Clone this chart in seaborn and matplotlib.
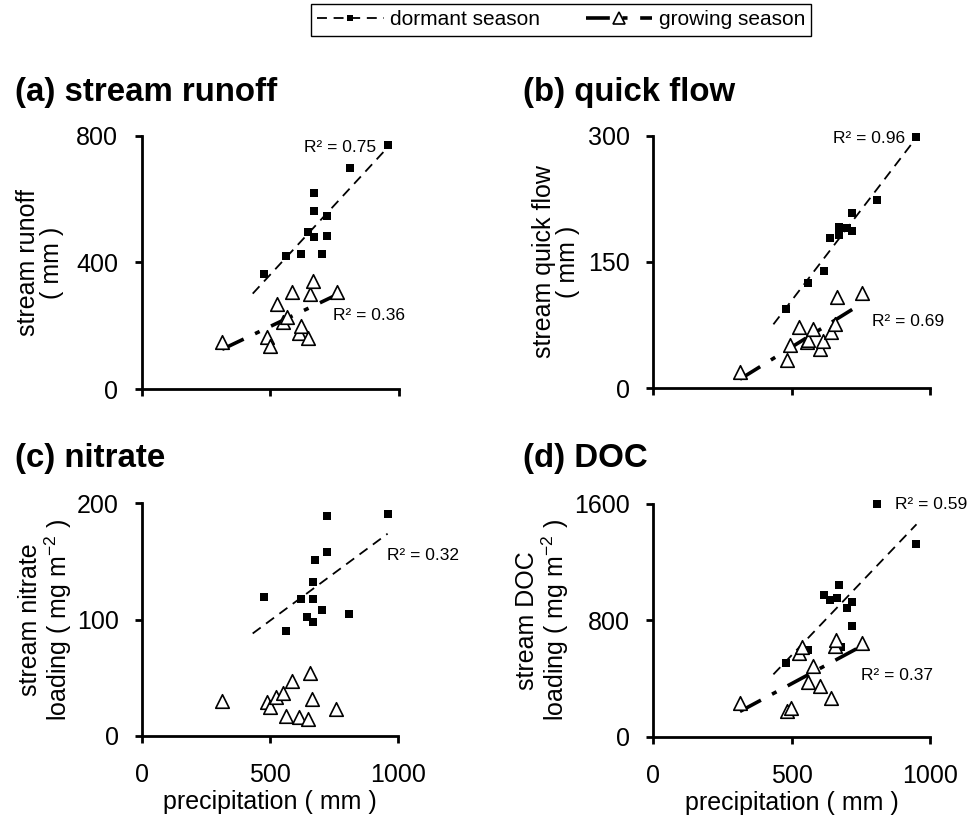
import numpy as np
import matplotlib
matplotlib.use("Agg")
import matplotlib.pyplot as plt
from matplotlib.lines import Line2D
import seaborn as sns

sns.set_style("ticks")
plt.rcParams["font.family"] = ["Liberation Sans", "DejaVu Sans"]
plt.rcParams["mathtext.fontset"] = "custom"
plt.rcParams["mathtext.rm"] = "Liberation Sans"
plt.rcParams["mathtext.it"] = "Liberation Sans:italic"
plt.rcParams["text.color"] = "black"
plt.rcParams["axes.labelcolor"] = "black"

# ---------------------------------------------------------------------------
# Data (precipitation in mm)
# ---------------------------------------------------------------------------
# (a) stream runoff (mm)
a_dorm_x = [476, 560, 619, 645, 668, 668, 668, 700, 721, 721, 809, 958]
a_dorm_y = [363, 421, 426, 495, 621, 563, 479, 426, 547, 484, 698, 772]
a_grow_x = [312, 485, 499, 524, 550, 563, 584, 610, 617, 647, 654, 664, 758]
a_grow_y = [148, 164, 136, 269, 213, 229, 306, 176, 200, 160, 301, 342, 306]

# (b) quick flow (mm)
b_dorm_x = [479, 558, 616, 640, 672, 672, 701, 718, 718, 807, 949]
b_dorm_y = [94, 125, 139, 179, 191, 182, 190, 208, 187, 224, 299]
b_grow_x = [313, 482, 494, 526, 554, 560, 577, 603, 614, 642, 658, 663, 753]
b_grow_y = [19, 34, 51, 73, 55, 57, 71, 47, 56, 67, 76, 109, 113]

# (c) nitrate loading (mg m-2)
c_dorm_x = [476, 560, 618, 645, 668, 668, 668, 675, 703, 720, 720, 809, 958]
c_dorm_y = [119, 90, 118, 102, 132, 118, 98, 151, 108, 189, 158, 105, 191]
c_grow_x = [312, 485, 499, 524, 550, 563, 584, 610, 647, 654, 664, 758]
c_grow_y = [30, 29, 25, 33, 37, 17, 47, 16, 14, 54, 32, 23]

# (d) DOC loading (mg m-2)
d_dorm_x = [479, 558, 616, 640, 665, 671, 678, 701, 719, 719, 810, 951]
d_dorm_y = [505, 596, 972, 940, 952, 1041, 619, 883, 929, 764, 1600, 1325]
d_grow_x = [313, 482, 497, 526, 537, 560, 577, 602, 642, 657, 660, 753]
d_grow_y = [234, 177, 195, 573, 619, 375, 483, 350, 264, 624, 665, 642]

titles = ["(a) stream runoff", "(b) quick flow", "(c) nitrate", "(d) DOC"]
ylabels = [
    "stream runoff\n( mm )",
    "stream quick flow\n( mm )",
    "stream nitrate\nloading ( mg m$^{-2}$ )",
    "stream DOC\nloading ( mg m$^{-2}$ )",
]
ymax = [800, 300, 200, 1600]
r2_dorm = ["0.75", "0.96", "0.32", "0.59"]
r2_grow = ["0.36", "0.69", None, "0.37"]

dorm_style = dict(color="black", lw=1.3, linestyle=(0, (5.5, 3.7)))
grow_style = dict(color="black", lw=2.6, linestyle=(0, (6.6, 3.5, 1.4, 3.5)))

fig = plt.figure(figsize=(9.69, 8.27), dpi=100)

# axes rectangles (figure fraction)
rects = [
    [0.1465, 0.5296, 0.2652, 0.3060],
    [0.6742, 0.5305, 0.2856, 0.3054],
    [0.1469, 0.1104, 0.2642, 0.2810],
    [0.6742, 0.1092, 0.2856, 0.2814],
]
title_pos = [(15, 93), (523, 93), (15, 459), (523, 459)]
ylabel_x = [-0.397, -0.352, -0.376, -0.399]
r2_dorm_pos = [(630, 762), (648, 297), (955, 155), (873, 1593)]
r2_grow_pos = [(745, 231), (791, 79), None, (750, 424)]

panels = [
    (a_dorm_x, a_dorm_y, a_grow_x, a_grow_y),
    (b_dorm_x, b_dorm_y, b_grow_x, b_grow_y),
    (c_dorm_x, c_dorm_y, c_grow_x, c_grow_y),
    (d_dorm_x, d_dorm_y, d_grow_x, d_grow_y),
]

for i, (dx, dy, gx, gy) in enumerate(panels):
    ax = fig.add_axes(rects[i])

    # dormant season
    sns.scatterplot(x=dx, y=dy, marker="s", color="black", s=30, linewidth=0,
                    ax=ax, clip_on=False, zorder=4)
    k, b = np.polyfit(dx, dy, 1)
    xs = np.array([min(dx) - 45, max(dx)])
    ax.plot(xs, k * xs + b, zorder=3, **dorm_style)

    # growing season
    sns.scatterplot(x=gx, y=gy, marker="^", color="white", edgecolor="black",
                    s=95, linewidth=1.2, ax=ax, clip_on=False, zorder=4)
    if r2_grow[i] is not None:
        k, b = np.polyfit(gx, gy, 1)
        xs = np.array([min(gx), max(gx) - 15])
        ax.plot(xs, k * xs + b, zorder=3, **grow_style)

    # R2 labels
    ax.text(*r2_dorm_pos[i], f"R² = {r2_dorm[i]}", fontsize=12.5,
            ha="left", va="center")
    if r2_grow[i] is not None:
        ax.text(*r2_grow_pos[i], f"R² = {r2_grow[i]}", fontsize=12.5,
                ha="left", va="center")

    ax.set_xlim(0, 1000)
    ax.set_ylim(0, ymax[i])
    ax.set_xticks([0, 500, 1000])
    ax.set_yticks([0, ymax[i] / 2, ymax[i]])
    ax.set_yticklabels([f"{v:.0f}" for v in [0, ymax[i] / 2, ymax[i]]])
    sns.despine(ax=ax)
    for side in ["left", "bottom"]:
        ax.spines[side].set_linewidth(2)
        ax.spines[side].set_color("black")
    ax.tick_params(direction="out", length=5, width=2, labelsize=18,
                   colors="black")
    ax.tick_params(axis="y", pad=12)
    ax.tick_params(axis="x", pad=15)

    ax.set_ylabel(ylabels[i], fontsize=18, va="center", linespacing=1.0)
    ax.yaxis.set_label_coords(ylabel_x[i], 0.5)
    if i >= 2:
        ax.set_xlabel("precipitation ( mm )", fontsize=18, va="center")
        ax.xaxis.set_label_coords(0.5, -0.284)
    else:
        ax.set_xticklabels([])

    tx, ty = title_pos[i]
    fig.text(tx / 969, 1 - ty / 827, titles[i], fontsize=23.8,
             fontweight="bold", ha="left", va="center")

handles = [
    Line2D([], [], marker="s", markersize=5, markerfacecolor="black",
           markeredgewidth=0, **dorm_style),
    Line2D([], [], marker="^", markersize=9, markerfacecolor="white",
           markeredgecolor="black", markeredgewidth=1.2, **grow_style),
]
fig.legend(handles, ["dormant season", "growing season"], loc="upper center",
           bbox_to_anchor=(0.579, 0.995), ncol=2, fontsize=15, frameon=True,
           fancybox=False, edgecolor="black", framealpha=1, borderpad=0.3,
           handlelength=3.2, handletextpad=0.3, columnspacing=2.2,
           borderaxespad=0).get_frame().set_linewidth(1.0)

fig.savefig("out.png", dpi=100)
